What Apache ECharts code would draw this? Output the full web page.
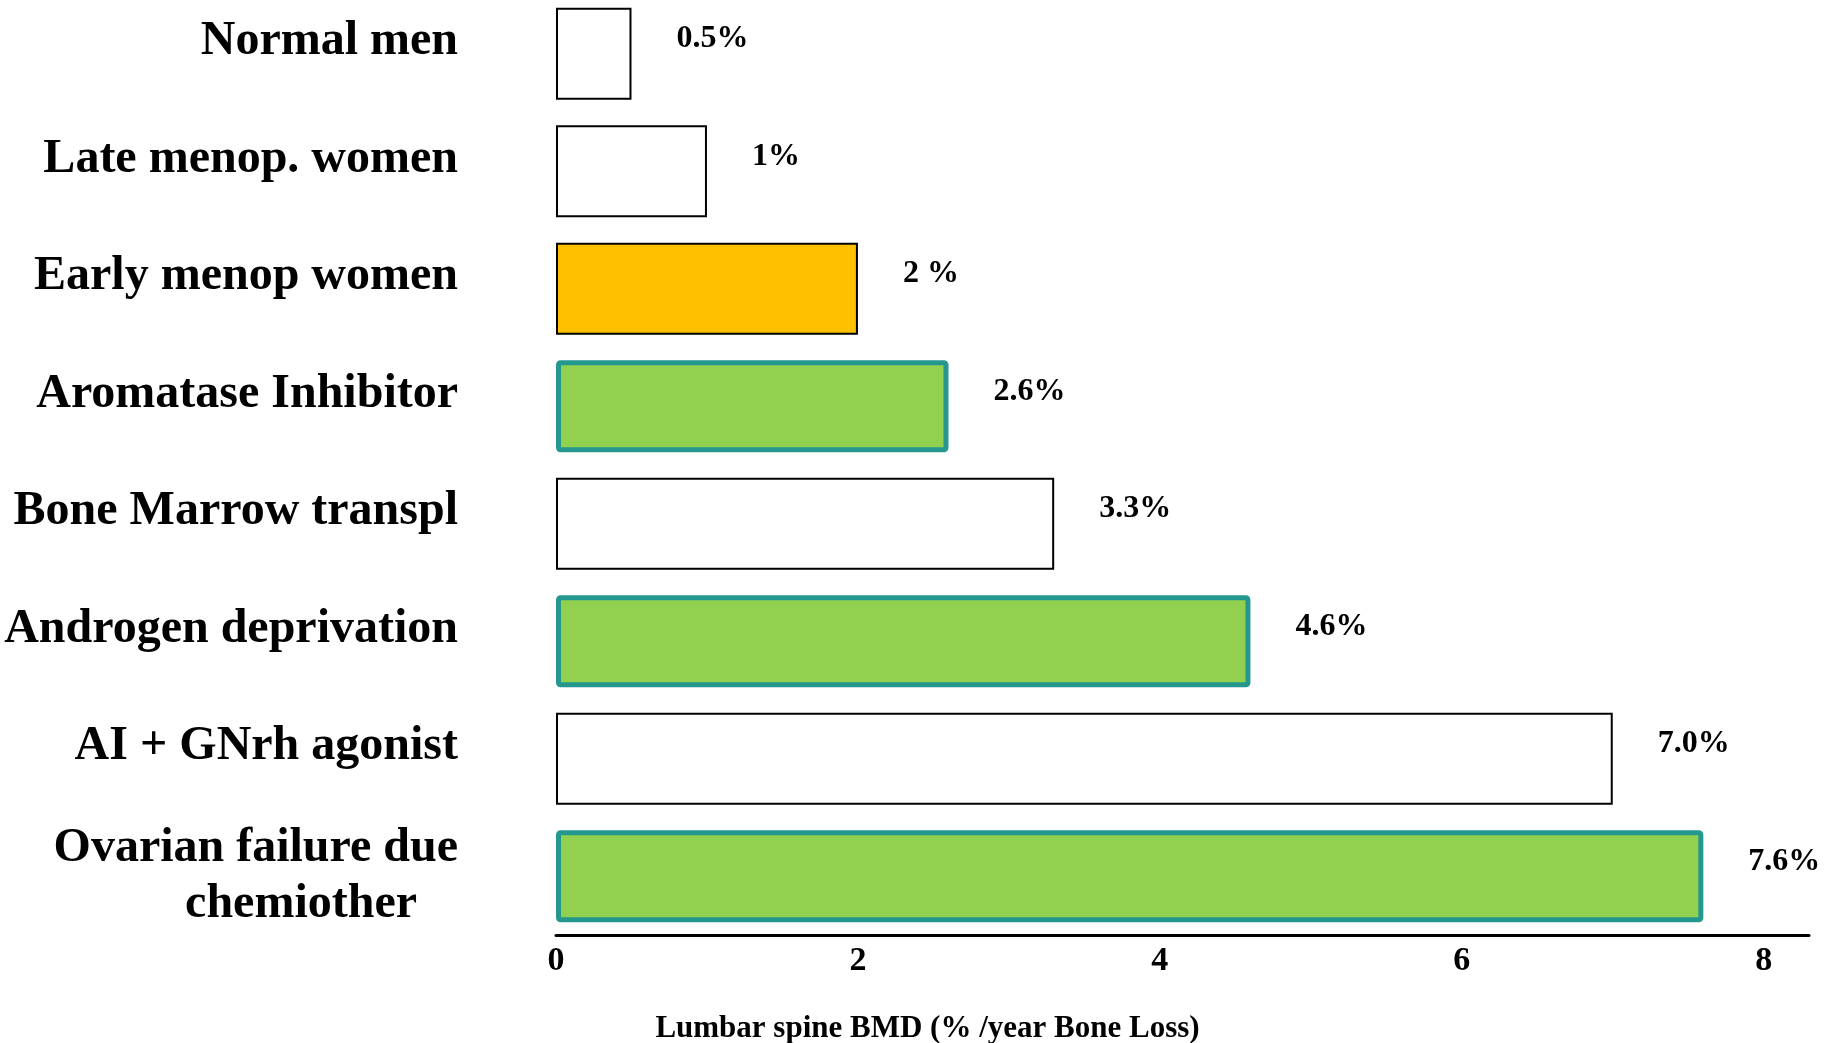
<!DOCTYPE html>
<html>
<head>
<meta charset="utf-8">
<title>Lumbar spine BMD bone loss</title>
<script src="https://cdn.jsdelivr.net/npm/echarts@6/dist/echarts.min.js"></script>
<style>
  html, body { margin: 0; padding: 0; background: #fff; }
  #chart { width: 1835px; height: 1043px; }
</style>
</head>
<body>
<div id="chart"></div>
<script>
// Annual lumbar spine BMD loss by condition
const categories = [
  'Normal men',
  'Late menop. women',
  'Early menop women',
  'Aromatase Inhibitor',
  'Bone Marrow transpl',
  'Androgen deprivation',
  'AI + GNrh agonist',
  'Ovarian failure due\nchemiother'
];
const boneLoss = [0.5, 1, 2, 2.6, 3.3, 4.6, 7.0, 7.6];
const valueLabels = ['0.5%', '1%', '2 %', '2.6%', '3.3%', '4.6%', '7.0%', '7.6%'];
const barKinds = ['plain', 'plain', 'menop', 'therapy', 'plain', 'therapy', 'plain', 'therapy'];
const axisTicks = [0, 2, 4, 6, 8];
const axisTitle = 'Lumbar spine BMD (% /year Bone Loss)';

const serif = '"Liberation Serif", "Times New Roman", serif';

const kindStyles = {
  plain:   { color: '#ffffff', borderColor: '#000000', borderWidth: 2 },
  menop:   { color: '#FFC000', borderColor: '#000000', borderWidth: 2 },
  therapy: { color: '#92D050', borderColor: '#24978F', borderWidth: 5, borderRadius: 2 }
};

const barData = boneLoss.map((v, i) => ({
  value: v,
  itemStyle: kindStyles[barKinds[i]]
}));

// Single-line names sit a little above the bar centre; the two-line name is centred.
const categoryData = categories.map(c =>
  c.indexOf('\n') >= 0 ? { value: c, textStyle: { padding: [0, 0, 0, 0] } } : c
);

const chart = echarts.init(document.getElementById('chart'), null, { renderer: 'canvas' });

chart.setOption({
  animation: false,
  backgroundColor: '#ffffff',
  grid: {
    left: 556, top: -5, width: 1253, height: 940,
    containLabel: false,
    outerBoundsMode: 'none'
  },
  xAxis: {
    type: 'value',
    min: 0,
    max: 8.3,
    interval: 2,
    axisLine: { show: true, lineStyle: { color: '#000', width: 3 } },
    axisTick: { show: false },
    splitLine: { show: false },
    axisLabel: {
      margin: 9,
      fontFamily: serif,
      fontWeight: 'bold',
      fontSize: 34,
      color: '#000',
      formatter: v => (axisTicks.indexOf(v) >= 0 ? String(v) : '')
    },
    name: axisTitle,
    nameLocation: 'middle',
    nameGap: 78,
    nameTextStyle: {
      fontFamily: serif,
      fontWeight: 'bold',
      fontSize: 31,
      color: '#000',
      padding: [0, 510, 0, 0]
    }
  },
  yAxis: {
    type: 'category',
    inverse: true,
    data: categoryData,
    axisLine: { show: false },
    axisTick: { show: false },
    axisLabel: {
      margin: 98,
      fontFamily: serif,
      fontWeight: 'bold',
      fontSize: 48,
      color: '#000',
      align: 'right',
      padding: [0, 0, 24, 0],
      formatter: v => {
        const lines = v.split('\n');
        if (lines.length === 1) return v;
        return '{a|' + lines[0] + '}\n{b|' + lines[1] + '}';
      },
      rich: {
        a: { fontFamily: serif, fontWeight: 'bold', fontSize: 48, color: '#000', lineHeight: 56, align: 'right' },
        b: { fontFamily: serif, fontWeight: 'bold', fontSize: 48, color: '#000', lineHeight: 56, align: 'right', padding: [0, 41, 0, 0] }
      }
    }
  },
  series: [{
    type: 'bar',
    data: barData,
    barWidth: 92,
    label: {
      show: true,
      position: 'right',
      distance: 45,
      offset: [0, -15],
      fontFamily: serif,
      fontWeight: 'bold',
      fontSize: 32,
      color: '#000',
      formatter: p => valueLabels[p.dataIndex]
    }
  }]
});
</script>
</body>
</html>
